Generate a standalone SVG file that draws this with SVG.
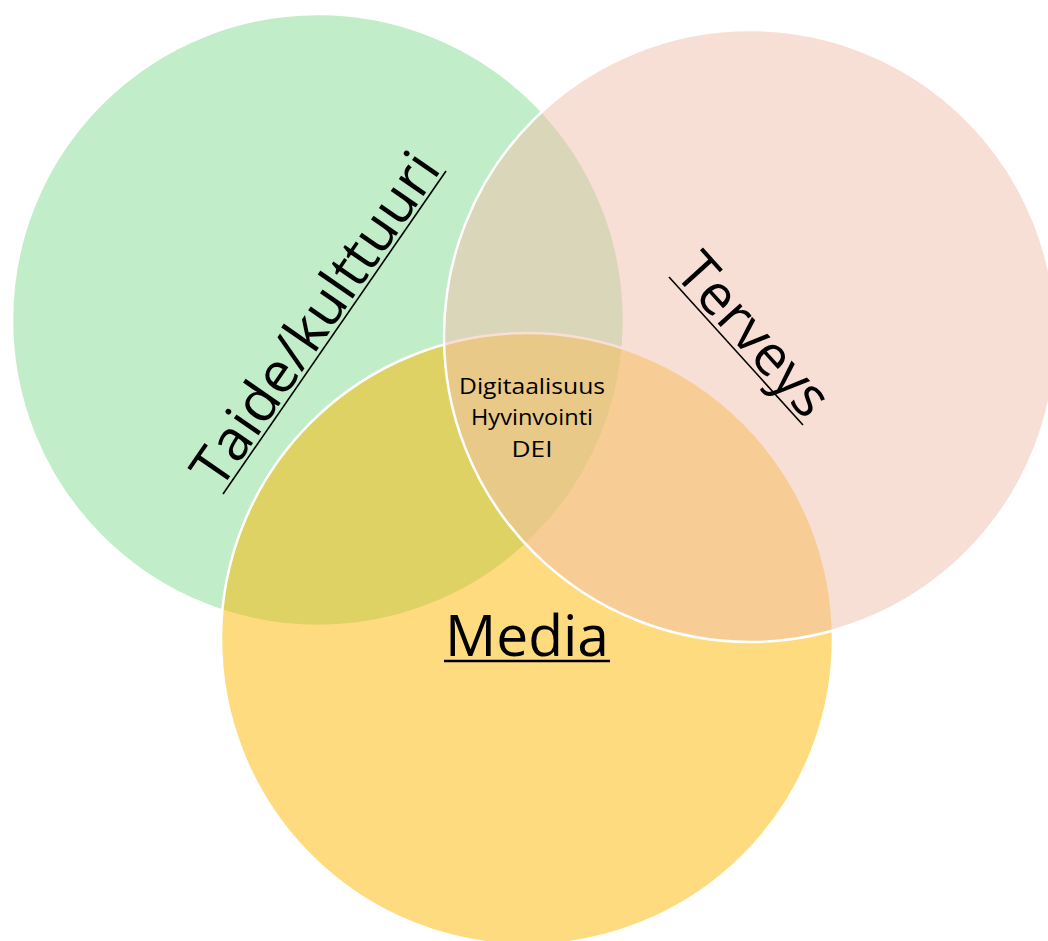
<svg xmlns="http://www.w3.org/2000/svg" width="1048" height="941" viewBox="0 0 1048 941">
  <style>
    .set { fill-opacity: 0.5; stroke: #FFFFFF; stroke-width: 2.5; }
    .lbl { font-family: "Open Sans", "Liberation Sans", sans-serif; font-size: 56px; fill: #000000; }
    .uline { stroke: #000000; stroke-width: 1.6; }
    .core { font-family: "Open Sans", "Liberation Sans", sans-serif; font-size: 22px; fill: #000000; text-anchor: middle; }
  </style>
  <rect x="0" y="0" width="1048" height="941" fill="#FFFFFF"/>
  <g id="connectors"></g>
  <g id="node-taide-kulttuuri">
    <circle class="set" cx="318" cy="320" r="306" fill="#83DB91"/>
    <text class="lbl" transform="translate(220,491) rotate(-55.4)" x="0" y="0" textLength="391" lengthAdjust="spacingAndGlyphs">Taide/kulttuuri</text>
    <line class="uline" x1="223" y1="494" x2="446" y2="171"/>
  </g>
  <g id="node-media">
    <circle class="set" cx="527" cy="639" r="306" fill="#FDB700"/>
    <text class="lbl" x="527" y="656" text-anchor="middle" textLength="164" lengthAdjust="spacingAndGlyphs">Media</text>
    <line class="uline" x1="444" y1="661" x2="610" y2="661" style="stroke-width:2.4"/>
  </g>
  <g id="node-terveys">
    <circle class="set" cx="750" cy="336" r="306" fill="#F1BFAB"/>
    <text class="lbl" transform="translate(673,274) rotate(47.9)" x="0" y="0" textLength="198" lengthAdjust="spacingAndGlyphs">Terveys</text>
    <line class="uline" x1="669" y1="277" x2="803" y2="425"/>
  </g>
  <g id="node-center">
    <text class="core" x="532" y="394" textLength="146" lengthAdjust="spacingAndGlyphs">Digitaalisuus</text>
    <text class="core" x="532" y="425" textLength="122" lengthAdjust="spacingAndGlyphs">Hyvinvointi</text>
    <text class="core" x="532" y="457" textLength="41" lengthAdjust="spacingAndGlyphs">DEI</text>
  </g>
</svg>
